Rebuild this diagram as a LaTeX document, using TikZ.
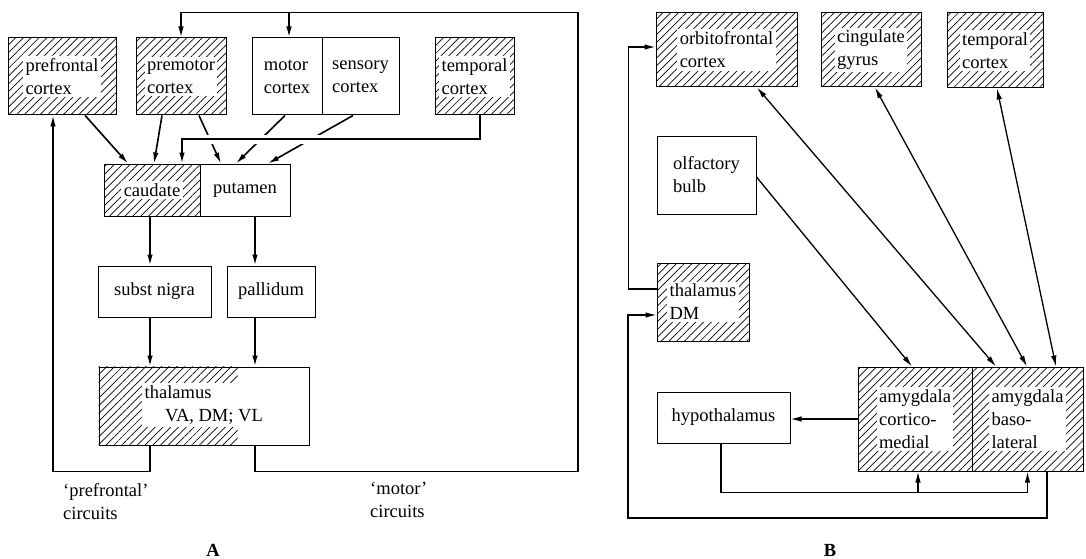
\documentclass[tikz,border=0pt]{standalone}
\usepackage{fontspec}
\setmainfont{Liberation Serif}
\usetikzlibrary{patterns.meta,arrows.meta,calc}
\newcommand\figfs{\fontsize{18.5}{23}\selectfont}
\begin{document}
\begin{tikzpicture}[x=1pt,y=-1pt,
 box/.style={draw, line width=1pt, inner sep=2pt, align=left, font=\figfs},
 hatchfill/.style={pattern={Lines[angle=45,distance=5.5pt,line width=0.7pt]}},
 hbox/.style={box, hatchfill},
 htxt/.style={fill=white, inner sep=2.5pt, align=left, font=\figfs},
 lbl/.style={inner sep=2pt, align=left, font=\figfs},
 conn/.style={line width=1.6pt, -{Latex[length=11pt,width=5.5pt]}},
 lineA/.style={line width=1.6pt},
 connB/.style={line width=1.3pt, -{Latex[length=11pt,width=5.5pt]}},
 lineB/.style={line width=1.3pt},
 bidir/.style={line width=1.3pt, {Latex[length=11pt,width=5.5pt]}-{Latex[length=11pt,width=5.5pt]}}]
\useasboundingbox (0,0) rectangle (1086,559);

% ---------------- Panel A ----------------
\node[hbox, minimum width=108pt, minimum height=77pt] (pfc) at (62,76.5) {};
\node[htxt] (pfcT) at (pfc.center) {prefrontal\\cortex};
\node[hbox, minimum width=90pt, minimum height=77pt] (pmc) at (181,76.5) {};
\node[htxt] (pmcT) at (pmc.center) {premotor\\cortex};
\node[box, minimum width=70pt, minimum height=77pt] (mot) at (287,76.5) {motor\\cortex};
\node[box, minimum width=77pt, minimum height=77pt] (sen) at (360.5,76.5) {sensory\\cortex};
\node[hbox, minimum width=79pt, minimum height=77pt] (tmpA) at (474.5,76.5) {};
\node[htxt] (tmpAT) at (tmpA.center) {temporal\\cortex};
\node[hbox, minimum width=96pt, minimum height=52pt] (cau) at (152,190) {};
\node[htxt] (cauT) at (cau.center) {caudate};
\node[box, minimum width=90pt, minimum height=52pt] (put) at (245,190) {putamen};
\node[box, minimum width=113pt, minimum height=51pt] (sn) at (154.5,291.5) {subst nigra};
\node[box, minimum width=88pt, minimum height=51pt] (pal) at (271,291.5) {pallidum};
\node[box, minimum width=210pt, minimum height=78pt] (thA) at (204,406) {};
\fill[hatchfill] (thA.north west) rectangle ($(thA.south west)+(139,0)$);
\node[htxt, anchor=west] (thAT) at (142,405) {thalamus\\\hspace{1.1em}VA, DM; VL};

% connectors A
\draw[conn] ([xshift=23pt]pfc.south) -- ([xshift=-24pt]cau.north);
\draw[conn] ([xshift=-19pt]pmc.south) -- ([xshift=2pt]cau.north);
\draw[conn] ([xshift=18pt]pmc.south) -- ([xshift=-24pt]put.north);
\draw[conn] ([xshift=-2pt]mot.south) -- ([xshift=-9pt]put.north);
\draw[conn] ([xshift=-7.5pt]sen.south) -- ([xshift=23pt]put.north);
\coordinate (tk1) at ([xshift=5.5pt]tmpA.south);
\coordinate (tk2) at ([xshift=30pt]cau.north);
\coordinate (tkh) at (0,139);
\draw[white, line width=9pt] (tk1 |- tkh) -- (tk2 |- tkh);
\draw[conn] (tk1) -- (tk1 |- tkh) -- (tk2 |- tkh) -- (tk2);

\draw[conn] ([xshift=-2pt]cau.south) -- ([xshift=-2pt]cau.south |- sn.north);
\draw[conn] ([xshift=10pt]put.south) -- ([xshift=10pt]put.south |- pal.north);
\draw[conn] ([xshift=-4.5pt]sn.south) -- ([xshift=-4.5pt]sn.south |- thA.north);
\draw[conn] ([xshift=-16pt]pal.south) -- ([xshift=-16pt]pal.south |- thA.north);

\coordinate (xR) at (578,0);
\coordinate (yt) at (0,12.5);
\draw[conn] ([xshift=-54pt]thA.south) -- ++(0,26) -| ([xshift=-9pt]pfc.south);
\draw[conn] ([xshift=51pt]thA.south) -- ++(0,26) -| (xR |- yt) -| (pmc.north);
\draw[conn] ([xshift=2pt]mot.north |- yt) -- ([xshift=2pt]mot.north);

\node[lbl, anchor=west] (pfcirc) at (61,502) {`prefrontal'\\circuits};
\node[lbl, anchor=west] (motcirc) at (368,500) {`motor'\\circuits};
\node[font=\bfseries\figfs, inner sep=0pt, anchor=base] (labA) at (213,556) {A};

% ---------------- Panel B ----------------
\node[hbox, minimum width=141pt, minimum height=74pt] (ofc) at (726.5,50) {};
\node[htxt] (ofcT) at (ofc.center) {orbitofrontal\\cortex};
\node[hbox, minimum width=100pt, minimum height=74pt] (cing) at (871,50) {};
\node[htxt] (cingT) at (cing.center) {cingulate\\gyrus};
\node[hbox, minimum width=96pt, minimum height=75pt] (tmpB) at (995,50.5) {};
\node[htxt] (tmpBT) at (tmpB.center) {temporal\\cortex};
\node[box, minimum width=99pt, minimum height=78pt] (olf) at (706.5,175) {olfactory\\bulb};
\node[hbox, minimum width=92pt, minimum height=78pt] (thB) at (703,302) {};
\node[htxt] (thBT) at (thB.center) {thalamus\\DM};
\node[box, minimum width=133pt, minimum height=51pt] (hyp) at (723.5,417.5) {hypothalamus};
\node[hbox, minimum width=114pt, minimum height=104pt] (amc) at (915,419) {};
\node[htxt] (amcT) at (amc.center) {amygdala\\cortico-\\medial};
\node[hbox, minimum width=111pt, minimum height=104pt] (abl) at (1027.5,419) {};
\node[htxt] (ablT) at (abl.center) {amygdala\\baso-\\lateral};

% connectors B
\draw[connB] ([yshift=13pt]thB.west) -- ++(-28,0) |- ([yshift=3pt]ofc.west);
\coordinate (lb) at (628,518);
\draw[connB] ([xshift=19.5pt]abl.south) |- (lb) |- ([yshift=-13pt]thB.west);
\draw[connB] (amc.west) -- (amc.west -| hyp.east);
\coordinate (hb) at ([yshift=-21pt]abl.south);
\draw[lineB] ([xshift=-2.5pt]hyp.south) |- (hb);
\draw[connB] ([xshift=3pt]amc.south |- hb) -- ([xshift=3pt]amc.south);
\draw[connB] (hb) -- (abl.south);
\draw[connB] ([yshift=-2pt]olf.east) -- ([xshift=-3pt]amc.north);
\draw[bidir] ([xshift=30.5pt]ofc.south) -- ([xshift=-31.5pt]abl.north);
\draw[bidir] ([xshift=4pt]cing.south) -- ([xshift=-0.5pt]abl.north);
\draw[bidir] ([xshift=2pt]tmpB.south) -- ([xshift=28.5pt]abl.north);

\node[font=\bfseries\figfs, inner sep=0pt, anchor=base] (labB) at (830,556) {B};
\end{tikzpicture}
\end{document}
